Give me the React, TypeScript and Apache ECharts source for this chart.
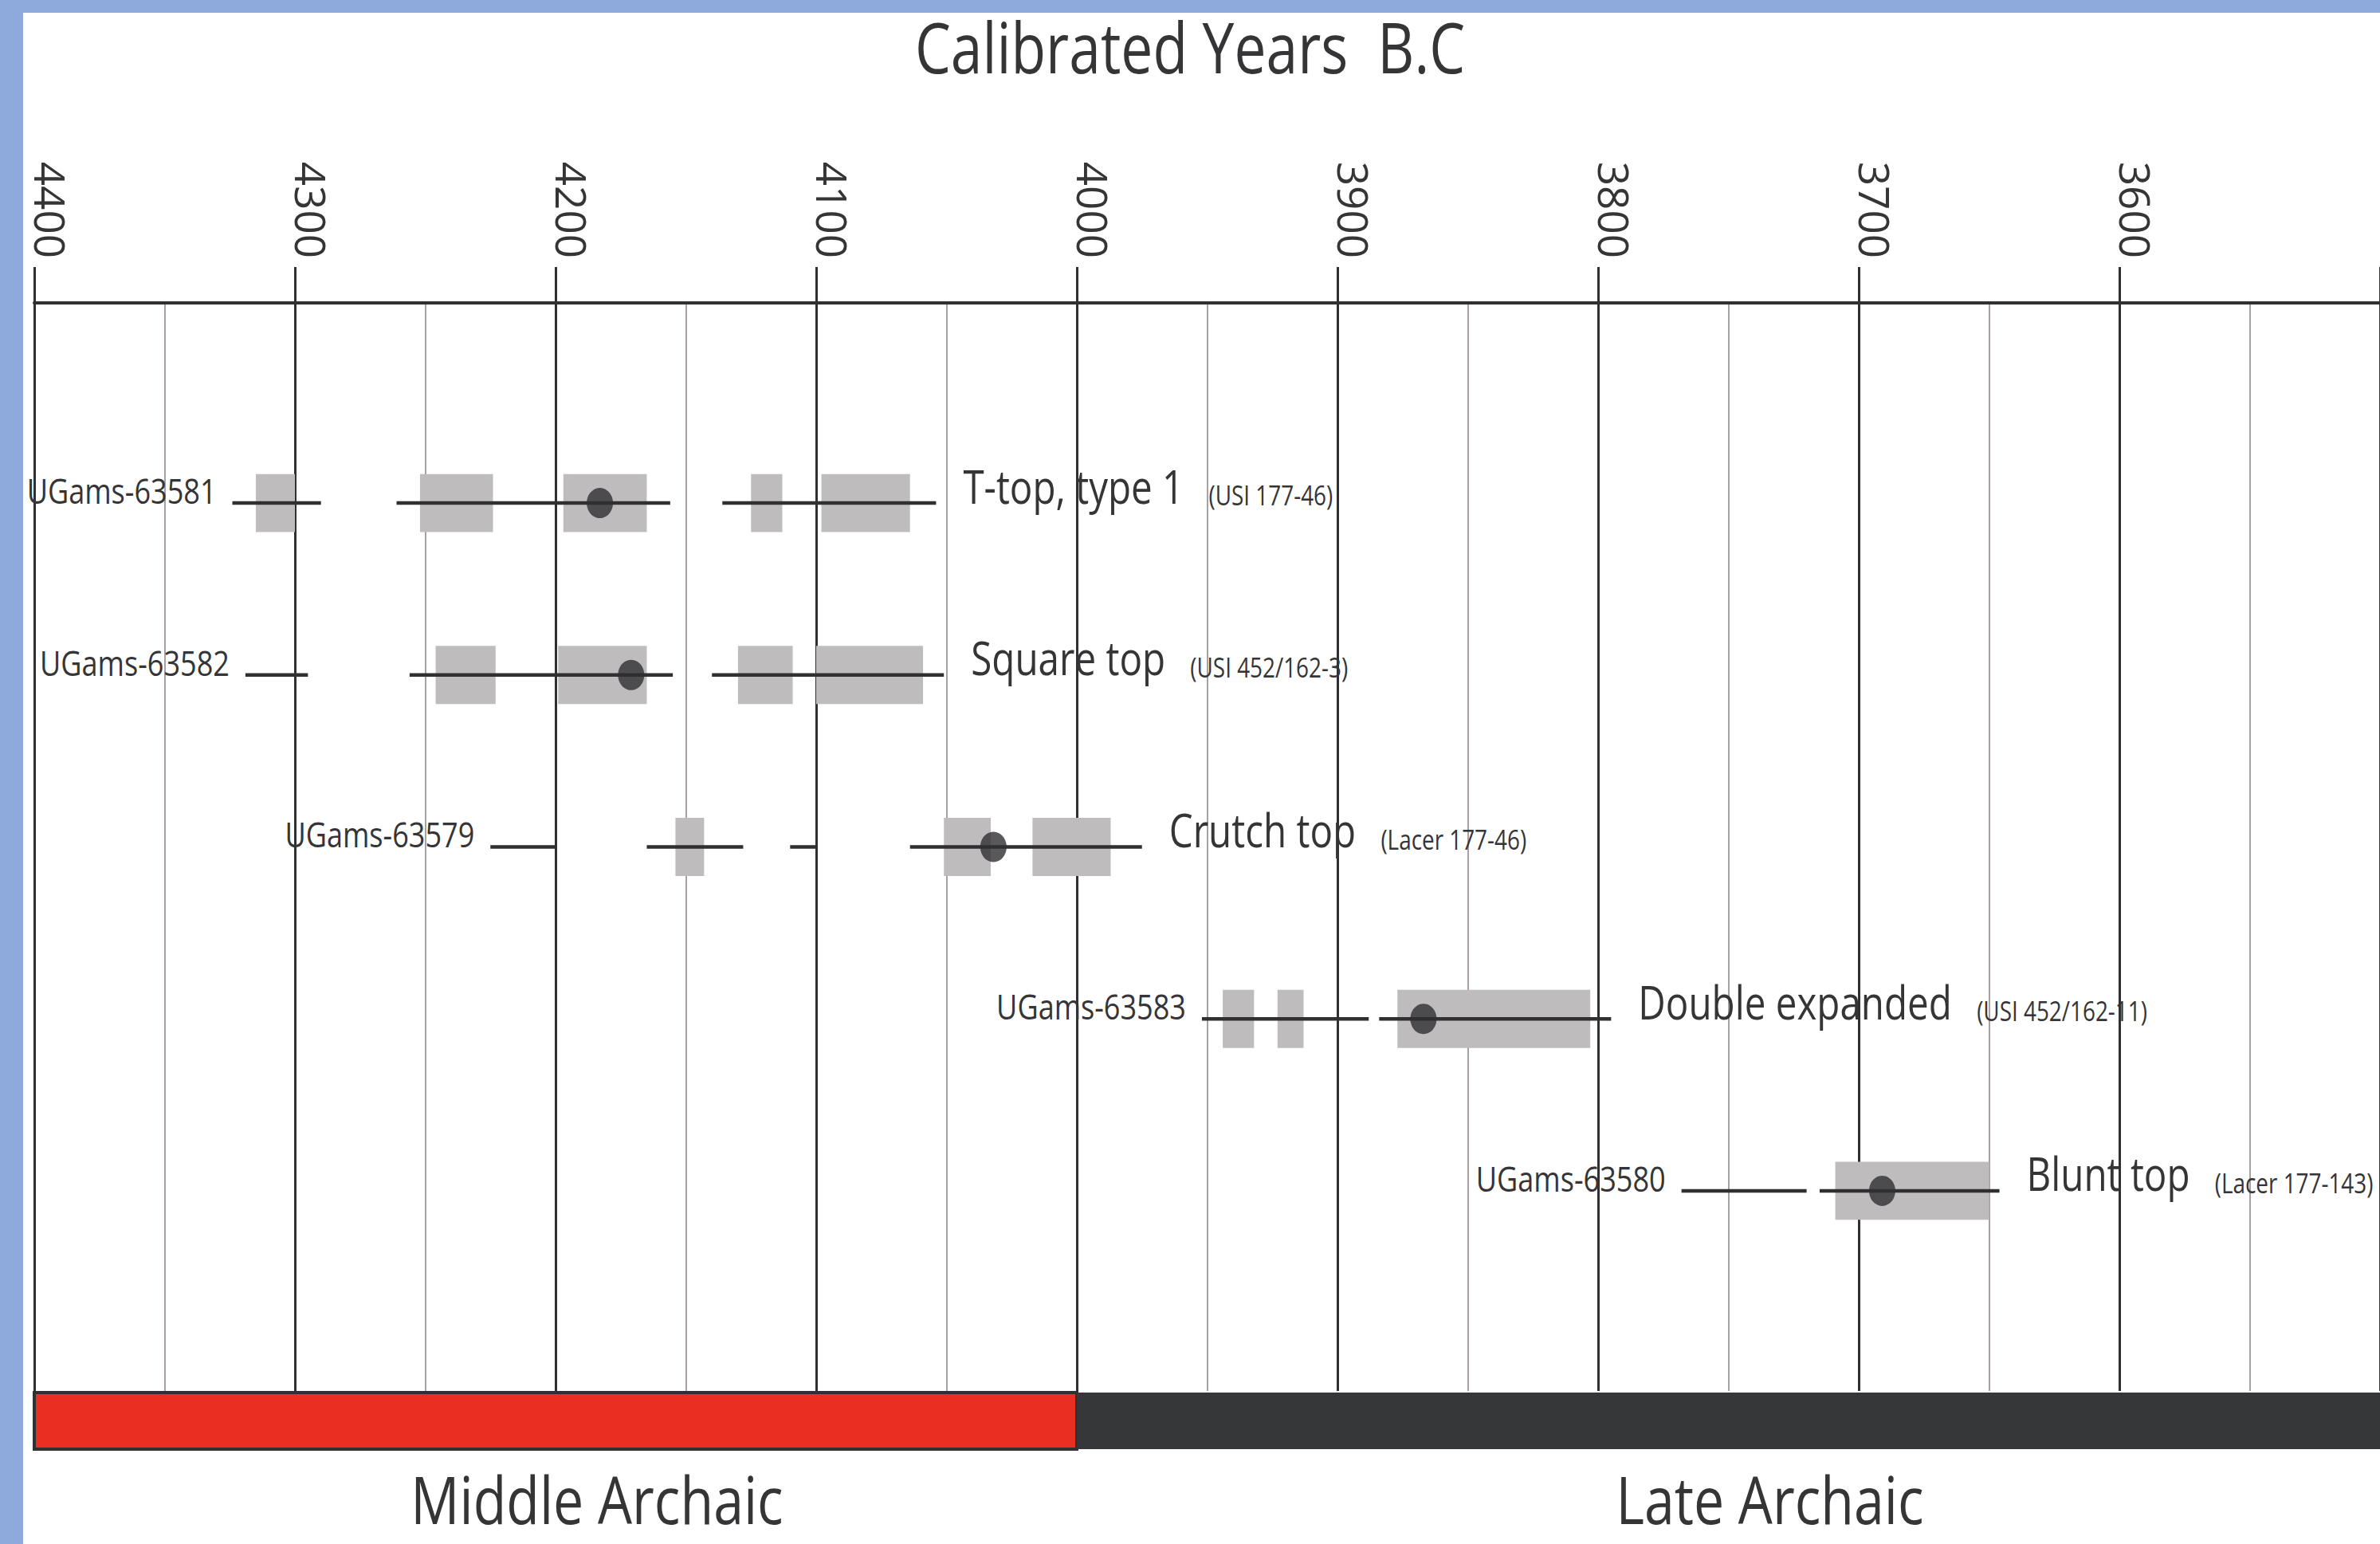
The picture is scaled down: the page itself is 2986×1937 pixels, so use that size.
import React, { useEffect, useRef } from 'react';
import * as echarts from 'echarts';

// ---------- data ----------
const sampleIds = ['UGams-63581', 'UGams-63582', 'UGams-63579', 'UGams-63583', 'UGams-63580'];
const pointTypes = ['T-top, type 1', 'Square top', 'Crutch top', 'Double expanded', 'Blunt top'];
const specimenRefs = ['(USI 177-46)', '(USI 452/162-3)', '(Lacer 177-46)', '(USI 452/162-11)', '(Lacer 177-143)'];
const medianYears = [4183, 4171, 4032, 3867, 3691];
// 1-sigma probability ranges (grey boxes), years B.C. [older, younger]
const oneSigmaRanges = [
  [[4315, 4300], [4252, 4224], [4197, 4165], [4125, 4113], [4098, 4064]],
  [[4246, 4223], [4199, 4165], [4130, 4109], [4100, 4059]],
  [[4154, 4143], [4051, 4033], [4017, 3987]],
  [[3944, 3932], [3923, 3913], [3877, 3803]],
  [[3709, 3650]],
];
// 2-sigma probability ranges (black lines)
const twoSigmaRanges = [
  [[4324, 4290], [4261, 4156], [4136, 4054]],
  [[4319, 4295], [4256, 4155], [4140, 4051]],
  [[4225, 4200], [4165, 4128], [4110, 4100], [4064, 3975]],
  [[3952, 3888], [3884, 3795]],
  [[3768, 3720], [3715, 3646]],
];
const periodNames = ['Middle Archaic', 'Late Archaic'];
const periodStart = [4400, 4000];
const periodEnd = [4000, 3500];
const axisMin = 3500;
const axisMax = 4400;
const axisStep = 100;
const chartTitle = 'Calibrated Years  B.C';

// ---------- styles ----------
const FONT = "'Open Sans', 'Noto Sans', sans-serif";
const TEXT = '#353436';
const DARK = '#303033';
const BOX = '#bfbcbd';
const MINOR = '#a9a1a1';
const BLUE = '#8eaadc';
const PERIOD_FILL = ['#e92e22', '#363739'];
const SX = 0.82;

export default function App() {
  const ref = useRef<HTMLDivElement>(null);

  useEffect(() => {
    document.body.style.margin = '0';
    if (!ref.current) return;
    const chart = echarts.init(ref.current, undefined, { renderer: 'svg' });

    const boxData: number[][] = [];
    oneSigmaRanges.forEach((ranges, i) => ranges.forEach(([a, b]) => boxData.push([a, b, i + 1])));
    const lineData: number[][] = [];
    twoSigmaRanges.forEach((ranges, i) => ranges.forEach(([a, b]) => lineData.push([a, b, i + 1])));
    const labelData = twoSigmaRanges.map((ranges, i) => [
      Math.max(...ranges.map((r) => r[0])),
      Math.min(...ranges.map((r) => r[1])),
      i + 1,
    ]);
    const medianData = medianYears.map((m, i) => [m, i + 1]);
    const periodData = periodNames.map((_, i) => [periodStart[i], periodEnd[i], i]);

    const option: any = {
      animation: false,
      graphic: [
        { type: 'rect', shape: { x: 0, y: 0, width: 2986, height: 16 }, style: { fill: BLUE }, z: 100 },
        { type: 'rect', shape: { x: 0, y: 0, width: 29, height: 1937 }, style: { fill: BLUE }, z: 100 },
        {
          type: 'text',
          x: 1493,
          y: 102,
          scaleX: SX,
          style: {
            text: chartTitle,
            fontFamily: FONT,
            fontSize: 87,
            lineHeight: 87,
            fill: TEXT,
            align: 'center',
            verticalAlign: 'bottom',
          },
        },
      ],
      grid: [
        { left: 43, right: 0, top: 380, height: 1365 },
        { left: 43, right: 0, top: 1747, height: 71 },
      ],
      xAxis: [
        {
          type: 'value',
          gridIndex: 0,
          position: 'top',
          min: axisMin,
          max: axisMax,
          interval: axisStep,
          inverse: true,
          axisLine: { show: true, onZero: false, lineStyle: { color: DARK, width: 4 } },
          axisTick: { show: true, inside: false, length: 45, lineStyle: { color: DARK, width: 3 } },
          minorTick: { show: false, splitNumber: 2 },
          axisLabel: {
            rotate: 90,
            margin: 56,
            fontSize: 53,
            fontFamily: FONT,
            color: TEXT,
            align: 'right',
            verticalAlign: 'bottom',
            lineHeight: 40,
            formatter: (v: number) => (v === axisMin ? '' : String(v)),
          },
          splitLine: { show: true, lineStyle: { color: DARK, width: 3 } },
          minorSplitLine: { show: true, lineStyle: { color: MINOR, width: 2 } },
        },
        {
          type: 'value',
          gridIndex: 1,
          min: axisMin,
          max: axisMax,
          inverse: true,
          show: false,
        },
      ],
      yAxis: [
        { type: 'value', gridIndex: 0, min: -0.164, max: 6.164, inverse: true, show: false },
        { type: 'value', gridIndex: 1, min: 0, max: 1, show: false },
      ],
      series: [
        {
          type: 'custom',
          name: '1 sigma',
          xAxisIndex: 0,
          yAxisIndex: 0,
          z: 2,
          encode: { x: [0, 1], y: 2 },
          data: boxData,
          renderItem: (params: any, api: any) => {
            const p0 = api.coord([api.value(0), api.value(2)]);
            const p1 = api.coord([api.value(1), api.value(2)]);
            const h = api.size([0, 1])[1] * 0.338;
            return {
              type: 'rect',
              shape: { x: Math.min(p0[0], p1[0]), y: p0[1] - h / 2, width: Math.abs(p1[0] - p0[0]), height: h },
              style: { fill: BOX },
            };
          },
        },
        {
          type: 'custom',
          name: '2 sigma',
          xAxisIndex: 0,
          yAxisIndex: 0,
          z: 3,
          encode: { x: [0, 1], y: 2 },
          data: lineData,
          renderItem: (params: any, api: any) => {
            const p0 = api.coord([api.value(0), api.value(2)]);
            const p1 = api.coord([api.value(1), api.value(2)]);
            return {
              type: 'line',
              shape: { x1: p0[0], y1: p0[1], x2: p1[0], y2: p1[1] },
              style: { stroke: DARK, lineWidth: 4.5 },
            };
          },
        },
        {
          type: 'scatter',
          name: 'median',
          xAxisIndex: 0,
          yAxisIndex: 0,
          z: 4,
          symbol: 'circle',
          symbolSize: [33, 38],
          itemStyle: { color: DARK },
          data: medianData,
        },
        {
          type: 'custom',
          name: 'labels',
          xAxisIndex: 0,
          yAxisIndex: 0,
          z: 5,
          encode: { x: [0, 1], y: 2 },
          data: labelData,
          renderItem: (params: any, api: any) => {
            const i = params.dataIndex;
            const pL = api.coord([api.value(0), api.value(2)]);
            const pR = api.coord([api.value(1), api.value(2)]);
            return {
              type: 'group',
              children: [
                {
                  type: 'text',
                  x: pL[0] - 20,
                  y: pL[1] + 6,
                  scaleX: SX,
                  style: {
                    text: sampleIds[i],
                    fontFamily: FONT,
                    fontSize: 44,
                    lineHeight: 44,
                    fill: TEXT,
                    align: 'right',
                    verticalAlign: 'bottom',
                  },
                },
                {
                  type: 'text',
                  x: pR[0] + 34,
                  y: pR[1] + 7,
                  scaleX: SX,
                  style: {
                    text: `{a|${pointTypes[i]}}{g| }{b|${specimenRefs[i]}}`,
                    fill: TEXT,
                    align: 'left',
                    verticalAlign: 'bottom',
                    rich: {
                      a: { fontFamily: FONT, fontSize: 58, lineHeight: 58, fill: TEXT, verticalAlign: 'bottom' },
                      g: { fontFamily: FONT, fontSize: 34, lineHeight: 34, width: 38, verticalAlign: 'bottom' },
                      b: { fontFamily: FONT, fontSize: 34, lineHeight: 34, fill: TEXT, verticalAlign: 'bottom' },
                    },
                  },
                },
              ],
            };
          },
        },
        {
          type: 'custom',
          name: 'periods',
          xAxisIndex: 1,
          yAxisIndex: 1,
          z: 2,
          encode: { x: [0, 1] },
          data: periodData,
          renderItem: (params: any, api: any) => {
            const i = params.dataIndex;
            const p0 = api.coord([api.value(0), 0]);
            const p1 = api.coord([api.value(1), 1]);
            const x = Math.min(p0[0], p1[0]);
            const w = Math.abs(p1[0] - p0[0]);
            const y = Math.min(p0[1], p1[1]);
            const h = Math.abs(p1[1] - p0[1]);
            const rect: any = {
              type: 'rect',
              shape: { x, y, width: w, height: h },
              style: i === 0 ? { fill: PERIOD_FILL[0], stroke: DARK, lineWidth: 4 } : { fill: PERIOD_FILL[1] },
            };
            return {
              type: 'group',
              children: [
                rect,
                {
                  type: 'text',
                  x: x + w / 2 + 52,
                  y: y + h + 103,
                  scaleX: SX,
                  style: {
                    text: periodNames[i],
                    fontFamily: FONT,
                    fontSize: 83,
                    lineHeight: 83,
                    fill: TEXT,
                    align: 'center',
                    verticalAlign: 'bottom',
                  },
                },
              ],
            };
          },
        },
      ],
    };

    chart.setOption(option);
    return () => chart.dispose();
  }, []);

  return <div ref={ref} style={{ width: 2986, height: 1937, display: 'block' }} />;
}
